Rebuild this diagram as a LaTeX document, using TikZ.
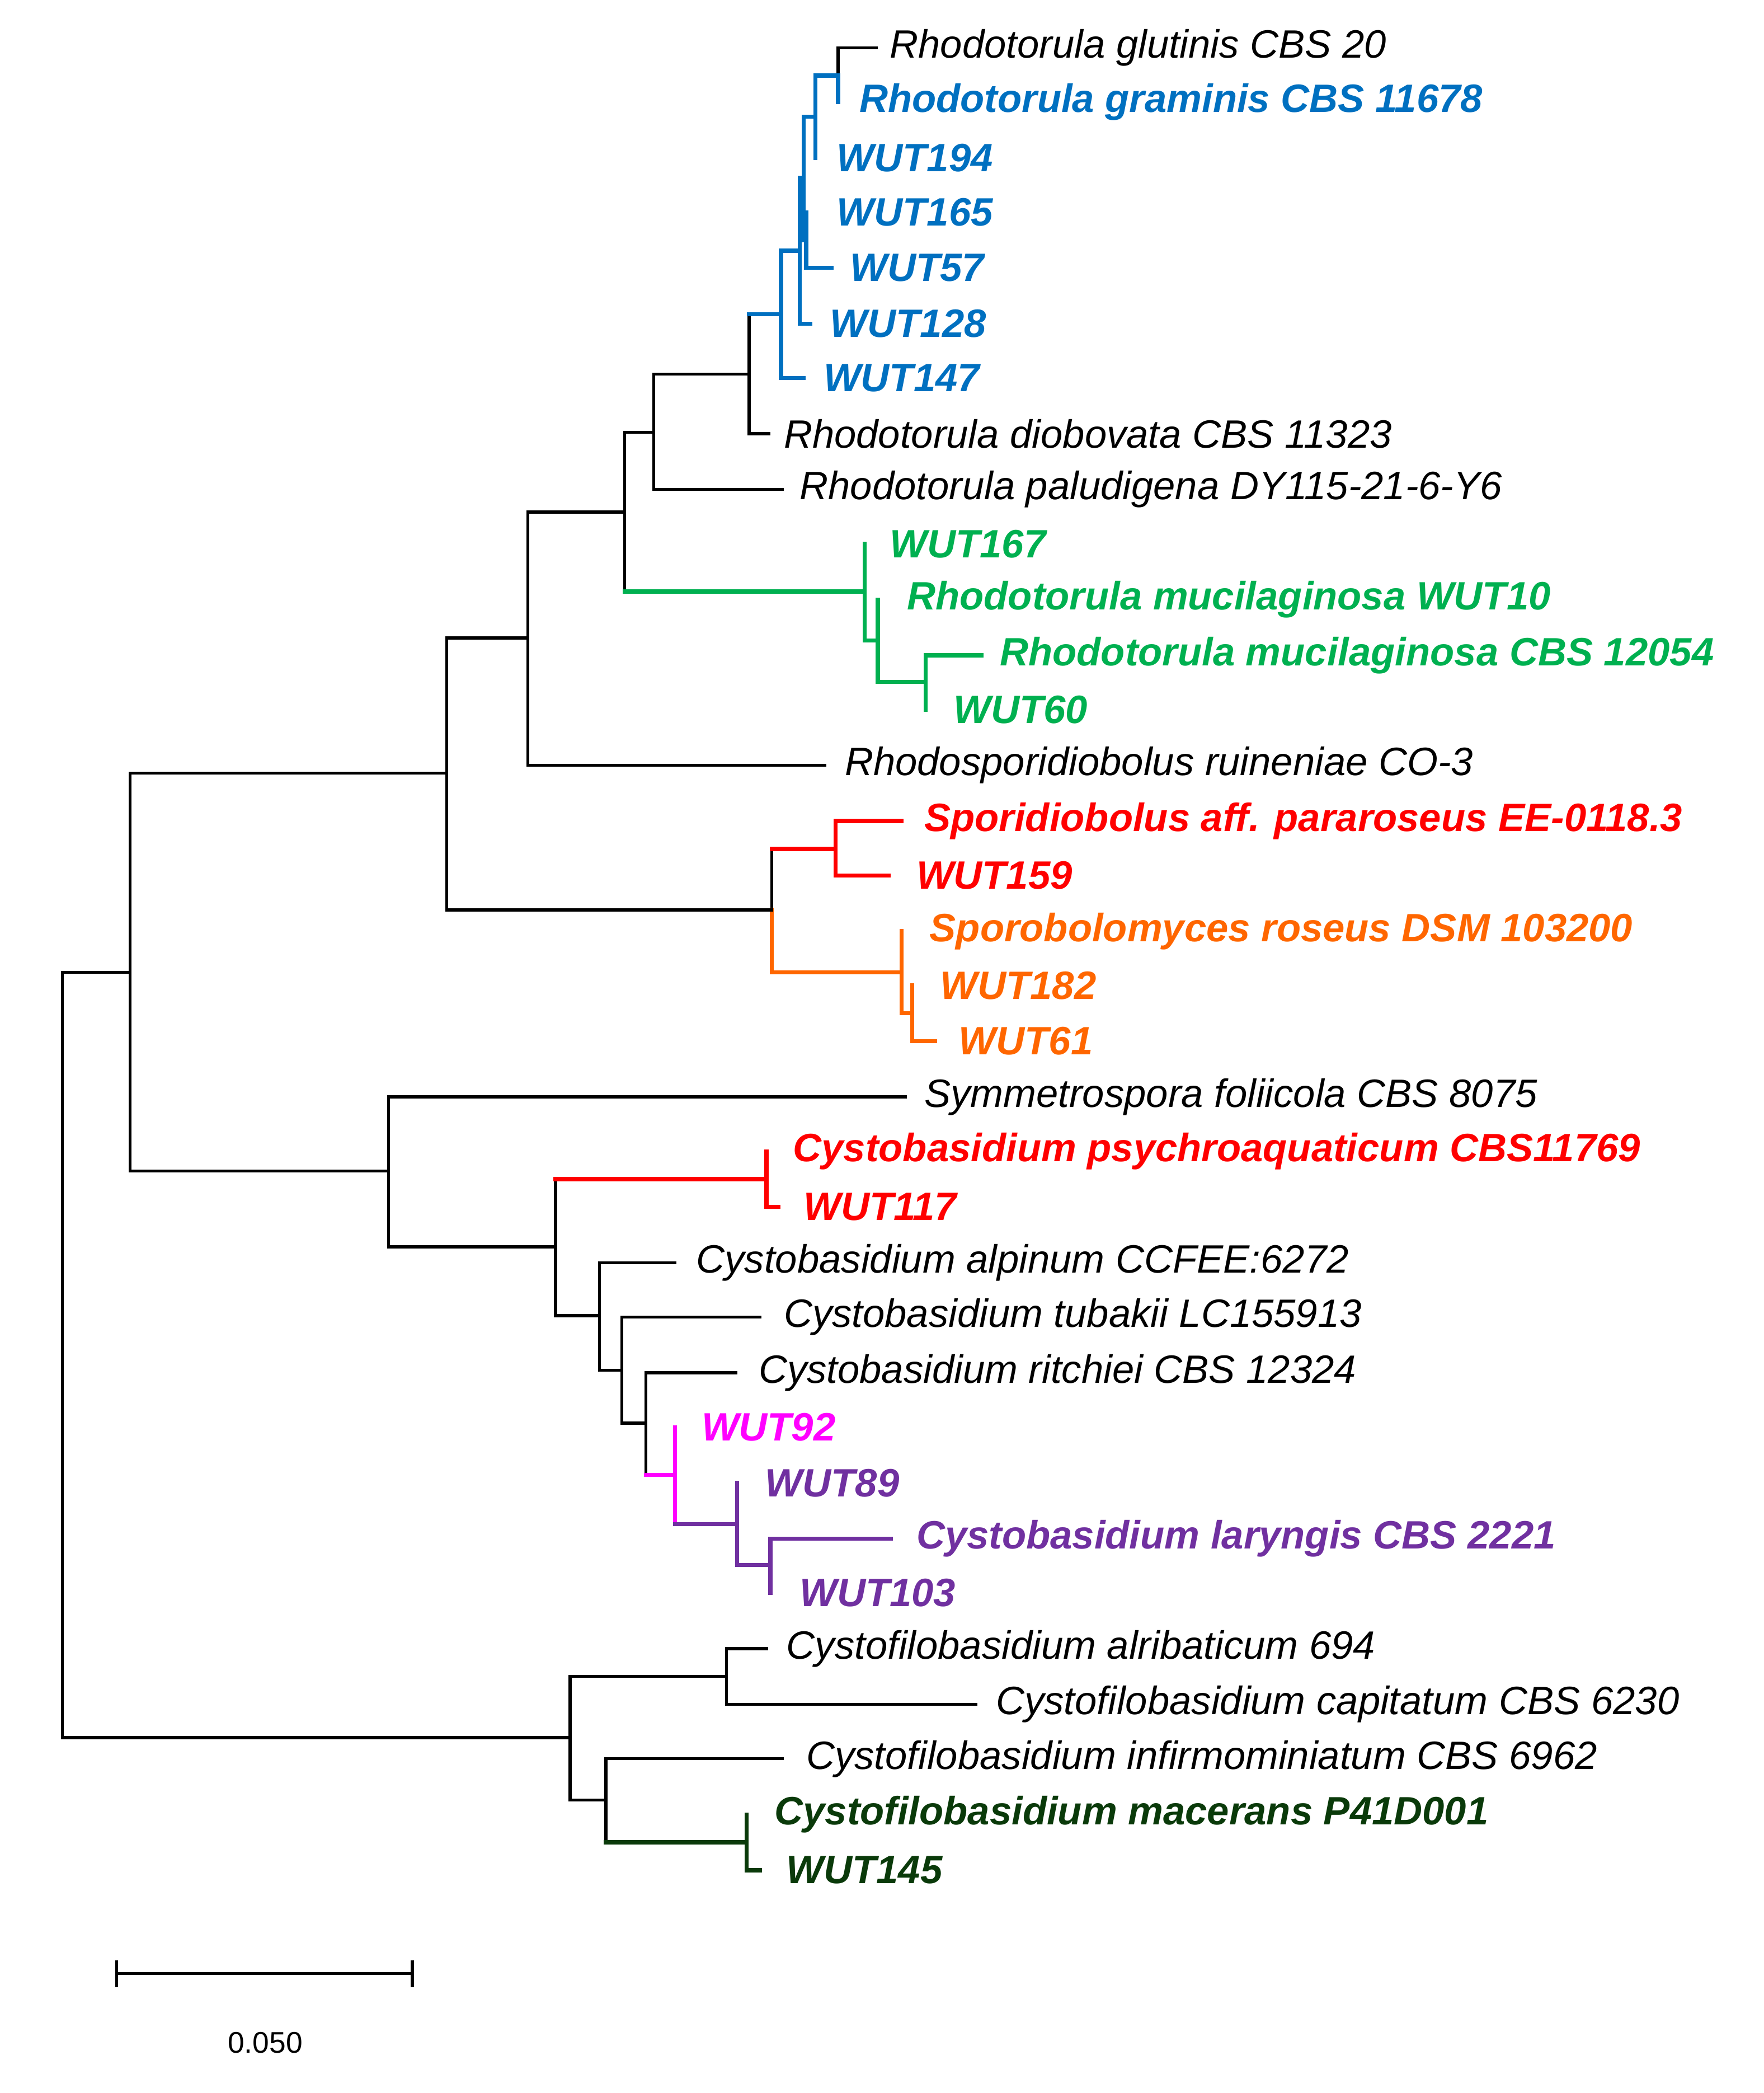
\documentclass[tikz,border=0pt]{standalone}
\usepackage{fontspec}
\setmainfont{Liberation Sans}
\definecolor{cblue}{HTML}{0070C0}
\definecolor{cgreen}{HTML}{00B050}
\definecolor{cred}{HTML}{FF0000}
\definecolor{corange}{HTML}{FF6600}
\definecolor{cpink}{HTML}{FF00FF}
\definecolor{cpurple}{HTML}{7030A0}
\definecolor{cdgreen}{HTML}{0A3A0A}
\newcommand\br[4]{\draw[#1] (#3) -- (#3 |- #4); \draw[#2] (#3 |- #4) -- (#4);}
\begin{document}
\begin{tikzpicture}[x=0.025cm,y=-0.025cm,line width=1.6pt,line cap=rect,
  k/.style={black},
  cb/.style={cblue,line width=2.2pt}, cg/.style={cgreen,line width=2.2pt},
  cr/.style={cred,line width=2.2pt}, co/.style={corange,line width=2.2pt},
  cp/.style={cpink,line width=2.2pt}, cu/.style={cpurple,line width=2.2pt},
  cd/.style={cdgreen,line width=2.2pt},
  lab/.style={anchor=west,inner sep=0pt,font=\fontsize{21.2}{23}\selectfont\itshape},
  blab/.style={lab,font=\fontsize{21.2}{23}\selectfont\bfseries\itshape}]
\useasboundingbox (0,0) rectangle (1330,1578);
% internal nodes
\coordinate (A) at (632,57);
\coordinate (B) at (615,88);
\coordinate (CC) at (608,181);
\coordinate (D) at (606,134);
\coordinate (C) at (603,189);
\coordinate (E) at (589,237);
\coordinate (F) at (565,282);
\coordinate (G) at (493,326);
\coordinate (K) at (698,514);
\coordinate (J) at (662,483);
\coordinate (I) at (652,446);
\coordinate (H) at (471,386);
\coordinate (L) at (398,481);
\coordinate (R1) at (630,640);
\coordinate (O2) at (688,764);
\coordinate (O1) at (680,733);
\coordinate (N) at (582,686);
\coordinate (M) at (337,583);
\coordinate (Psy) at (578,889);
\coordinate (W) at (581,1180);
\coordinate (V) at (556,1149);
\coordinate (U) at (509,1112);
\coordinate (T) at (487,1073);
\coordinate (S) at (469,1033);
\coordinate (R) at (452,992);
\coordinate (Q) at (419,940);
\coordinate (P) at (293,883);
\coordinate (O) at (98,733);
\coordinate (Y) at (548,1264);
\coordinate (DG) at (563,1389);
\coordinate (Z) at (457,1357);
\coordinate (X) at (430,1310);
\coordinate (root) at (47,1021);
% tips
\coordinate (t0) at (661,36);   \coordinate (t1) at (632,77);
\coordinate (t2) at (615,119);  \coordinate (t3) at (608,160);
\coordinate (t4) at (627,202);  \coordinate (t5) at (611,244);
\coordinate (t6) at (606,285);  \coordinate (t7) at (580,327);
\coordinate (t8) at (590,369);  \coordinate (t9) at (652,410);
\coordinate (t10) at (662,452); \coordinate (t11) at (740,494);
\coordinate (t12) at (698,535); \coordinate (t13) at (622,577);
\coordinate (t14) at (680,619); \coordinate (t15) at (670,660);
\coordinate (t16) at (680,702); \coordinate (t17) at (688,743);
\coordinate (t18) at (705,785); \coordinate (t19) at (683,827);
\coordinate (t20) at (578,868); \coordinate (t21) at (587,910);
\coordinate (t22) at (509,952); \coordinate (t23) at (573,993);
\coordinate (t24) at (555,1035); \coordinate (t25) at (509,1076);
\coordinate (t26) at (556,1118); \coordinate (t27) at (672,1160);
\coordinate (t28) at (581,1201); \coordinate (t29) at (578,1243);
\coordinate (t30) at (736,1285); \coordinate (t31) at (590,1326);
\coordinate (t32) at (563,1368); \coordinate (t33) at (573,1410);
% labels
\node[lab] (l0) at (670,36) {Rhodotorula glutinis CBS 20};
\node[blab,text=cblue] (l1) at (647,77) {Rhodotorula graminis CBS 11678};
\node[blab,text=cblue] (l2) at (630,119) {WUT194};
\node[blab,text=cblue] (l3) at (630,160) {WUT165};
\node[blab,text=cblue] (l4) at (640,202) {WUT57};
\node[blab,text=cblue] (l5) at (625,244) {WUT128};
\node[blab,text=cblue] (l6) at (620,285) {WUT147};
\node[lab] (l7) at (590,327) {Rhodotorula diobovata CBS 11323};
\node[lab] (l8) at (602,369) {Rhodotorula paludigena DY115-21-6-Y6};
\node[blab,text=cgreen] (l9) at (670,410) {WUT167};
\node[blab,text=cgreen] (l10) at (683,452) {Rhodotorula mucilaginosa WUT10};
\node[blab,text=cgreen] (l11) at (753,494) {Rhodotorula mucilaginosa CBS 12054};
\node[blab,text=cgreen] (l12) at (718,535) {WUT60};
\node[lab] (l13) at (636,577) {Rhodosporidiobolus ruineniae CO-3};
\node[blab,text=cred] (l14) at (696,619) {Sporidiobolus aff. pararoseus EE-0118.3};
\node[blab,text=cred] (l15) at (690,660) {WUT159};
\node[blab,text=corange] (l16) at (700,702) {Sporobolomyces roseus DSM 103200};
\node[blab,text=corange] (l17) at (708,743) {WUT182};
\node[blab,text=corange] (l18) at (722,785) {WUT61};
\node[lab] (l19) at (696,827) {Symmetrospora foliicola CBS 8075};
\node[blab,text=cred] (l20) at (597,868) {Cystobasidium psychroaquaticum CBS11769};
\node[blab,text=cred] (l21) at (605,910) {WUT117};
\node[lab] (l22) at (524,952) {Cystobasidium alpinum CCFEE:6272};
\node[lab] (l23) at (590,993) {Cystobasidium tubakii LC155913};
\node[lab] (l24) at (571,1035) {Cystobasidium ritchiei CBS 12324};
\node[blab,text=cpink] (l25) at (528,1076) {WUT92};
\node[blab,text=cpurple] (l26) at (576,1118) {WUT89};
\node[blab,text=cpurple] (l27) at (690,1160) {Cystobasidium laryngis CBS 2221};
\node[blab,text=cpurple] (l28) at (602,1201) {WUT103};
\node[lab] (l29) at (592,1243) {Cystofilobasidium alribaticum 694};
\node[lab] (l30) at (750,1285) {Cystofilobasidium capitatum CBS 6230};
\node[lab] (l31) at (607,1326) {Cystofilobasidium infirmominiatum CBS 6962};
\node[blab,text=cdgreen] (l32) at (583,1368) {Cystofilobasidium macerans P41D001};
\node[blab,text=cdgreen] (l33) at (592,1410) {WUT145};
% branches: \br{vertical style}{horizontal style}{parent}{child}
\br{k}{k}{A}{t0}
\br{cb}{cb}{A}{t1}
\br{cb}{cb}{B}{A}
\br{cb}{cb}{B}{t2}
\br{cb}{cb}{CC}{t3}
\br{cb}{cb}{CC}{t4}
\br{cb}{cb}{D}{B}
\br{cb}{cb}{D}{CC}
\br{cb}{cb}{C}{D}
\br{cb}{cb}{C}{t5}
\br{cb}{cb}{E}{C}
\br{cb}{cb}{E}{t6}
\br{k}{cb}{F}{E}
\br{k}{k}{F}{t7}
\br{k}{k}{G}{F}
\br{k}{k}{G}{t8}
\br{cg}{cg}{K}{t11}
\br{cg}{cg}{K}{t12}
\br{cg}{cg}{J}{t10}
\br{cg}{cg}{J}{K}
\br{cg}{cg}{I}{t9}
\br{cg}{cg}{I}{J}
\br{k}{k}{H}{G}
\br{k}{cg}{H}{I}
\br{k}{k}{L}{H}
\br{k}{k}{L}{t13}
\br{cr}{cr}{R1}{t14}
\br{cr}{cr}{R1}{t15}
\br{co}{co}{O2}{t17}
\br{co}{co}{O2}{t18}
\br{co}{co}{O1}{t16}
\br{co}{co}{O1}{O2}
\br{k}{cr}{N}{R1}
\br{co}{co}{N}{O1}
\br{k}{k}{M}{L}
\br{k}{k}{M}{N}
\br{cr}{cr}{Psy}{t20}
\br{cr}{cr}{Psy}{t21}
\br{cu}{cu}{W}{t27}
\br{cu}{cu}{W}{t28}
\br{cu}{cu}{V}{t26}
\br{cu}{cu}{V}{W}
\br{cp}{cp}{U}{t25}
\br{cp}{cu}{U}{V}
\br{k}{k}{T}{t24}
\br{k}{cp}{T}{U}
\br{k}{k}{S}{t23}
\br{k}{k}{S}{T}
\br{k}{k}{R}{t22}
\br{k}{k}{R}{S}
\br{k}{cr}{Q}{Psy}
\br{k}{k}{Q}{R}
\br{k}{k}{P}{t19}
\br{k}{k}{P}{Q}
\br{k}{k}{O}{M}
\br{k}{k}{O}{P}
\br{k}{k}{Y}{t29}
\br{k}{k}{Y}{t30}
\br{cd}{cd}{DG}{t32}
\br{cd}{cd}{DG}{t33}
\br{k}{k}{Z}{t31}
\br{k}{cd}{Z}{DG}
\br{k}{k}{X}{Y}
\br{k}{k}{X}{Z}
\br{k}{k}{root}{O}
\br{k}{k}{root}{X}
% scale bar
\coordinate (s1) at (88,1488);
\coordinate (s2) at (311,1488);
\draw (s1) -- (s2);
\draw (88,1479) -- (88,1497);
\draw (311,1479) -- (311,1497);
\node[inner sep=0pt,font=\fontsize{16}{18}\selectfont] (sl) at (200,1540) {0.050};
\end{tikzpicture}
\end{document}
